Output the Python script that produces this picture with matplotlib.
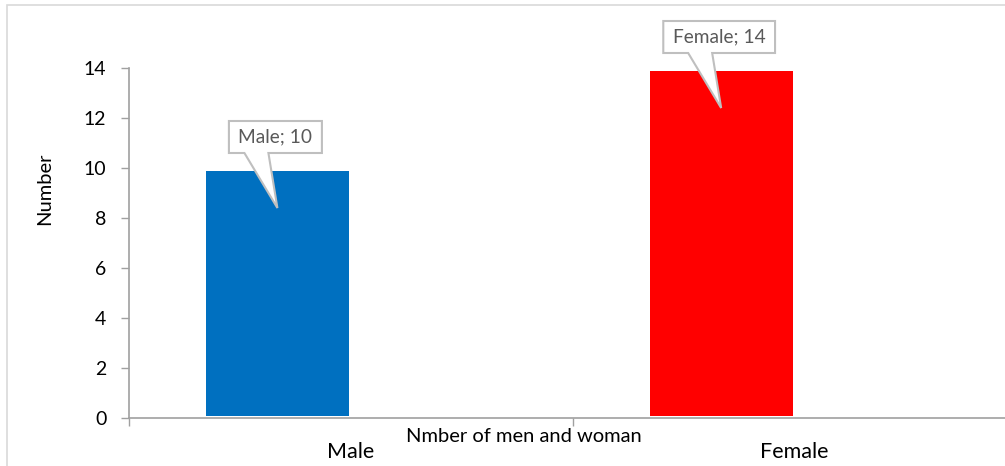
import numpy as np
import matplotlib
matplotlib.use("Agg")
import matplotlib.pyplot as plt
from matplotlib import transforms
from matplotlib.patches import Polygon, Rectangle

plt.rcParams['font.family'] = ['Lato', 'DejaVu Sans']

# data
categories = ["Male", "Female"]
counts = [10, 14]
bar_colors = ["#0070C0", "#FF0000"]
y_ticks = [0, 2, 4, 6, 8, 10, 12, 14]
x_title = "Nmber of men and woman"
y_title = "Number"

W, H, DPI = 1005, 466, 100
fig = plt.figure(figsize=(W / DPI, H / DPI), dpi=DPI)
fig.patch.set_facecolor("white")

# light chart-area frame (runs past right and bottom edges)
fig.patches.append(Rectangle((7 / W, -20 / H), 1.1, (H - 5 + 20) / H,
                             transform=fig.transFigure, fill=False,
                             edgecolor="#D9D9D9", linewidth=1.2, zorder=0))

# plot area in pixels: left 129, bottom axis at y=418, top at y=68, right ~1016
ax = fig.add_axes([129 / W, (H - 418) / H, (1016.5 - 129) / W, 350 / H])
ax.set_facecolor("none")

n = len(categories)
bar_pos = np.arange(n)
label_shift = 1 / 6
label_pos = bar_pos + label_shift
bounds = np.arange(n + 1) - 0.5 + label_shift

ax.bar(bar_pos, counts, width=1 / 3, color=bar_colors,
       edgecolor="white", linewidth=3.6, zorder=1)

ax.set_xlim(bounds[0], bounds[-1])
ax.set_ylim(0, 14)

axis_gray = "#A0A0A0"
for s in ("top", "right"):
    ax.spines[s].set_visible(False)
for s in ("left", "bottom"):
    ax.spines[s].set_color(axis_gray)
    ax.spines[s].set_linewidth(1.2)
    ax.spines[s].set_zorder(3)

ax.set_yticks(y_ticks)
ax.set_yticklabels([str(v) for v in y_ticks])
ax.tick_params(axis="y", direction="out", length=5.8, width=1.0,
               color=axis_gray, pad=10.5, labelsize=14, labelcolor="black")

ax.set_xticks(label_pos)
ax.set_xticklabels(categories)
ax.set_xticks(bounds, minor=True)
ax.tick_params(axis="x", which="major", length=0, pad=17,
               labelsize=15.5, labelcolor="black")
ax.tick_params(axis="x", which="minor", direction="out", length=6,
               width=1.0, color=axis_gray)

ax.set_xlabel(x_title, fontsize=14.5, color="black")
ax.xaxis.set_label_coords((524 - 129) / (1016.5 - 129), -10 / 350)
ax.xaxis.label.set_va("top")

fig.text(45 / W, 1 - 188.5 / H, y_title, rotation=90, ha="center",
         va="center", fontsize=14.5, color="black")

# callout data labels, laid out in inches relative to the top of each bar
renderer = fig.canvas.get_renderer()
box_edge = "#BFBFBF"
for xb, v, name in zip(bar_pos, counts, categories):
    anchor = fig.dpi_scale_trans + transforms.ScaledTranslation(xb, v, ax.transData)
    cx, cy = -0.015, 0.31
    txt = ax.text(cx, cy, f"{name}; {v}", transform=anchor, ha="center",
                  va="center", fontsize=13.8, color="#595959", zorder=6,
                  clip_on=False)
    bb = txt.get_window_extent(renderer)
    hw = bb.width / DPI / 2 + 0.095
    hh = 0.16
    left, right = cx - hw, cx + hw
    top, bot = cy + hh, cy - hh
    base_l, base_r = -0.325, -0.085
    tip = (0.005, -0.40)
    verts = [(left, top), (right, top), (right, bot), (base_r, bot),
             tip, (base_l, bot), (left, bot)]
    ax.add_patch(Polygon(verts, closed=True, transform=anchor,
                         facecolor="white", edgecolor=box_edge,
                         linewidth=1.5, joinstyle="miter", zorder=5,
                         clip_on=False))

fig.savefig("out.png", dpi=DPI)
